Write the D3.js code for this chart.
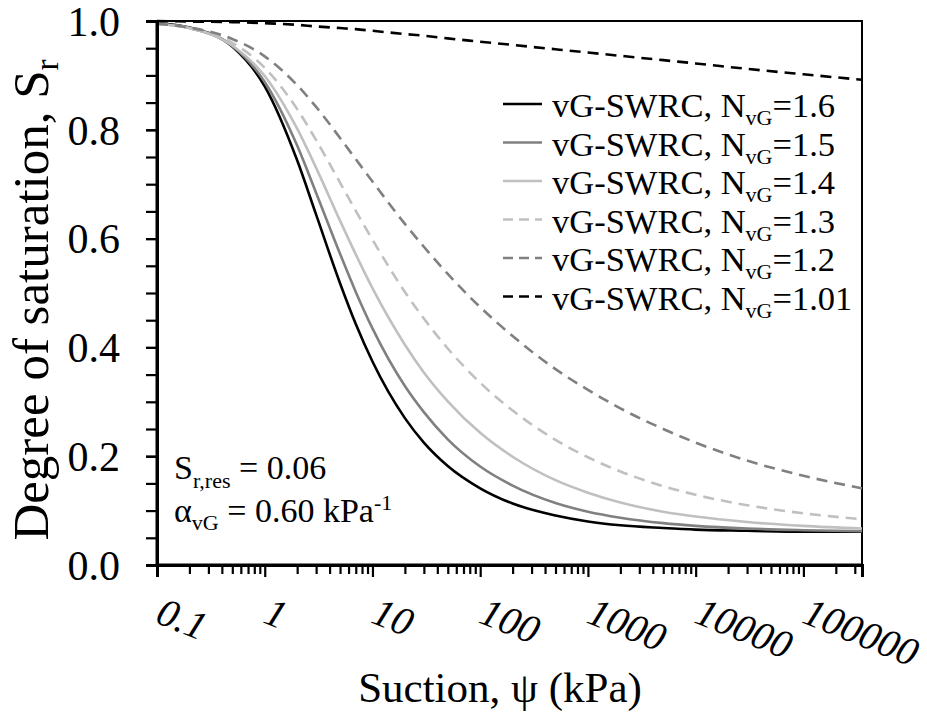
<!DOCTYPE html>
<html>
<head>
<meta charset="utf-8">
<script src="https://cdn.jsdelivr.net/npm/d3@7"></script>
<style>
  body { margin: 0; background: #fff; }
  svg { display: block; font-family: "Liberation Serif", "Times New Roman", serif; }
</style>
</head>
<body>
<div id="chart"></div>
<script>
// suction values (kPa) where the curves were read
const suction = [0.1, 0.2, 0.5, 1, 2, 3, 5, 7, 10, 20, 30, 50, 100, 200, 500, 1000, 2000, 5000, 10000, 30000, 100000, 350000];

// degree of saturation
const srN160 = [0.996, 0.988, 0.953, 0.880, 0.744, 0.644, 0.518, 0.443, 0.374, 0.270, 0.225, 0.182, 0.141, 0.113, 0.091, 0.080, 0.073, 0.068, 0.065, 0.063, 0.061, 0.061];
const srN150 = [0.995, 0.987, 0.954, 0.888, 0.771, 0.684, 0.572, 0.502, 0.435, 0.329, 0.281, 0.231, 0.181, 0.146, 0.114, 0.098, 0.087, 0.077, 0.072, 0.067, 0.064, 0.062];
const srN140 = [0.995, 0.987, 0.955, 0.899, 0.802, 0.730, 0.633, 0.571, 0.509, 0.405, 0.354, 0.301, 0.243, 0.199, 0.156, 0.133, 0.115, 0.098, 0.089, 0.079, 0.072, 0.067];
const srN130 = [0.995, 0.987, 0.960, 0.914, 0.838, 0.781, 0.703, 0.651, 0.598, 0.502, 0.453, 0.398, 0.335, 0.284, 0.230, 0.198, 0.172, 0.145, 0.129, 0.110, 0.095, 0.084];
const srN120 = [0.995, 0.988, 0.967, 0.935, 0.882, 0.842, 0.785, 0.746, 0.705, 0.627, 0.585, 0.535, 0.474, 0.421, 0.360, 0.322, 0.288, 0.250, 0.225, 0.192, 0.164, 0.141];
const srN101 = [1.000, 0.999, 0.998, 0.996, 0.993, 0.990, 0.987, 0.985, 0.982, 0.976, 0.973, 0.968, 0.962, 0.956, 0.948, 0.942, 0.936, 0.928, 0.922, 0.912, 0.902, 0.892];

const nLabels = ['1.6', '1.5', '1.4', '1.3', '1.2', '1.01'];
const xTickValues = [0.1, 1, 10, 100, 1000, 10000, 100000];
const xTickLabels = ['0.1', '1', '10', '100', '1000', '10000', '100000'];
const yTickValues = [0, 0.2, 0.4, 0.6, 0.8, 1.0];

const series = [
  { n: nLabels[0], values: srN160, color: '#000000', dash: null },
  { n: nLabels[1], values: srN150, color: '#808080', dash: null },
  { n: nLabels[2], values: srN140, color: '#c0c0c0', dash: null },
  { n: nLabels[3], values: srN130, color: '#c0c0c0', dash: '11,7' },
  { n: nLabels[4], values: srN120, color: '#808080', dash: '11,7' },
  { n: nLabels[5], values: srN101, color: '#000000', dash: '11,7' }
];

const width = 927;
const height = 715;
const plotLeft = 157, plotRight = 862, plotTop = 21, plotBottom = 565;

const svg = d3.select('#chart')
  .append('svg')
  .attr('width', width)
  .attr('height', height);

const x = d3.scaleLog().domain([0.1, 350000]).range([plotLeft, plotRight]);
const y = d3.scaleLinear().domain([0, 1]).range([plotBottom, plotTop]);

// minor ticks 2..9 in every decade
const xMinor = [];
for (let e = -1; e <= 5; e++) {
  for (let k = 2; k <= 9; k++) {
    const v = k * Math.pow(10, e);
    if (v < 350000) xMinor.push(v);
  }
}

// frame on top and right
svg.append('path')
  .attr('d', `M${plotLeft},${plotTop}H${plotRight}V${plotBottom}`)
  .attr('fill', 'none')
  .attr('stroke', '#000')
  .attr('stroke-width', 2);

// curves
const line = d3.line()
  .x((d, i) => x(suction[i]))
  .y(d => y(d))
  .curve(d3.curveMonotoneX);

svg.append('g')
  .selectAll('path')
  .data(series)
  .enter()
  .append('path')
  .attr('d', d => line(d.values))
  .attr('fill', 'none')
  .attr('stroke', d => d.color)
  .attr('stroke-width', 2.6)
  .attr('stroke-dasharray', d => d.dash);

// x axis
const xMinorAxis = svg.append('g')
  .attr('transform', `translate(0,${plotBottom})`)
  .call(d3.axisBottom(x).tickValues(xMinor).tickSize(9).tickFormat(''));

const xMajorAxis = svg.append('g')
  .attr('transform', `translate(0,${plotBottom})`)
  .call(d3.axisBottom(x).tickValues(xTickValues).tickSize(12).tickFormat(''));

// y axis
const yMinorAxis = svg.append('g')
  .attr('transform', `translate(${plotLeft},0)`)
  .call(d3.axisLeft(y).tickValues(d3.range(0, 1.001, 0.05)).tickSize(11).tickFormat(''));

const yMajorAxis = svg.append('g')
  .attr('transform', `translate(${plotLeft},0)`)
  .call(d3.axisLeft(y).tickValues(yTickValues).tickSize(11).tickPadding(26).tickFormat(d3.format('.1f')));

[xMinorAxis, xMajorAxis, yMinorAxis, yMajorAxis].forEach(g => {
  g.select('.domain').attr('stroke-width', 3).attr('stroke', '#000');
  g.selectAll('.tick line').attr('stroke-width', 2.2).attr('stroke', '#000');
});
xMinorAxis.select('.domain').attr('d', `M${plotLeft},0H${plotRight}`);
yMinorAxis.select('.domain').attr('d', `M0,${plotBottom}V${plotTop}`);

yMajorAxis.selectAll('.tick text')
  .attr('font-family', '"Liberation Serif", serif')
  .attr('font-size', 42)
  .attr('fill', '#000')
  .attr('dy', '0.34em');

// rotated x tick labels
svg.append('g')
  .selectAll('text')
  .data(xTickValues)
  .enter()
  .append('text')
  .attr('transform', d => `translate(${x(d) - 3},622) rotate(22)`)
  .attr('font-size', 40)
  .attr('font-style', 'italic')
  .text((d, i) => xTickLabels[i]);

// axis titles
svg.append('text')
  .attr('x', 500)
  .attr('y', 702)
  .attr('text-anchor', 'middle')
  .attr('font-size', 43)
  .text('Suction, ψ (kPa)');

const yTitle = svg.append('text')
  .attr('transform', 'translate(48,300) rotate(-90)')
  .attr('text-anchor', 'middle')
  .attr('font-size', 51);
yTitle.append('tspan').text('Degree of saturation, S');
yTitle.append('tspan').attr('font-size', 33).attr('dy', 10).text('r');

// legend
const legend = svg.append('g')
  .selectAll('g')
  .data(series)
  .enter()
  .append('g')
  .attr('transform', (d, i) => `translate(0,${117 + i * 38.5})`);

legend.append('line')
  .attr('x1', 503)
  .attr('x2', 542)
  .attr('y1', -13)
  .attr('y2', -13)
  .attr('stroke', d => d.color)
  .attr('stroke-width', 2.6)
  .attr('stroke-dasharray', d => d.dash ? '10,6' : null);

const legendText = legend.append('text')
  .attr('x', 552)
  .attr('font-size', 34.5);
legendText.append('tspan').text('vG-SWRC, N');
legendText.append('tspan').attr('font-size', 22).attr('dy', 8).text('vG');
legendText.append('tspan').attr('dy', -8).text(d => '=' + d.n);

// parameter notes
const note1 = svg.append('text').attr('x', 174).attr('y', 479).attr('font-size', 34);
note1.append('tspan').text('S');
note1.append('tspan').attr('font-size', 22).attr('dy', 9).text('r,res');
note1.append('tspan').attr('dy', -9).text(' = 0.06');

const note2 = svg.append('text').attr('x', 174).attr('y', 522).attr('font-size', 34);
note2.append('tspan').text('α');
note2.append('tspan').attr('font-size', 22).attr('dy', 8).text('vG');
note2.append('tspan').attr('dy', -8).text(' = 0.60 kPa');
note2.append('tspan').attr('font-size', 22).attr('dy', -12).text('-1');
</script>
</body>
</html>
